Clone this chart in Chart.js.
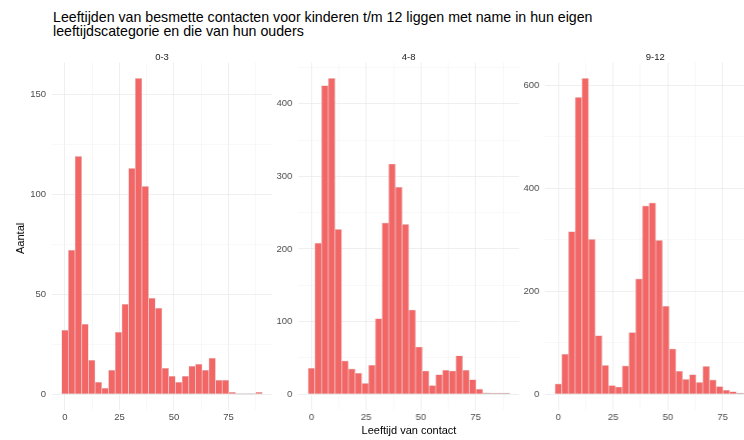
<!DOCTYPE html>
<html><head><meta charset="utf-8">
<script src="https://cdn.jsdelivr.net/npm/chart.js@4.4.1/dist/chart.umd.min.js"></script>
<style>
html,body{margin:0;padding:0;background:#fff;width:744px;height:440px;overflow:hidden;position:relative;font-family:"Liberation Sans",Arial,sans-serif;}
.box{position:absolute;top:0;height:440px;}
#title{position:absolute;left:53px;top:9.5px;font-size:14.2px;line-height:14px;color:#000;white-space:nowrap;}
#ytitle{position:absolute;left:14px;top:217px;width:13px;height:42px;font-size:11px;line-height:13px;color:#000;writing-mode:vertical-rl;transform:rotate(180deg);text-align:center;white-space:nowrap;}
#xtitle{position:absolute;left:409px;top:424px;font-size:11px;line-height:13px;color:#000;transform:translateX(-50%);white-space:nowrap;}
.facet{position:absolute;top:55.7px;font-size:9.5px;line-height:11px;color:#1A1A1A;transform:translate(-50%,-50%);white-space:nowrap;}
</style></head>
<body>
<div id="title">Leeftijden van besmette contacten voor kinderen t/m 12 liggen met name in hun eigen<br>leeftijdscategorie en die van hun ouders</div>
<div class="box" style="left:0px;width:272.4px"><canvas id="c1"></canvas></div>
<div class="box" style="left:272.4px;width:246.7px"><canvas id="c2"></canvas></div>
<div class="box" style="left:519.1px;width:246.6px"><canvas id="c3"></canvas></div>
<div class="facet" id="f1" style="left:162px"></div>
<div class="facet" id="f2" style="left:408.7px"></div>
<div class="facet" id="f3" style="left:655.3px"></div>
<div id="ytitle">Aantal</div>
<div id="xtitle">Leeftijd van contact</div>
<script>
// bin centres (age of contact)
const binCenters = [0,3.07,6.14,9.21,12.28,15.34,18.41,21.48,24.55,27.62,30.69,33.76,36.83,39.9,42.97,46.03,49.1,52.17,55.24,58.31,61.38,64.45,67.52,70.59,73.66,76.72,79.79,82.86,85.93,89];
// counts per facet
const counts03  = [32,72,119,35,17,6,3,12,31,45,113,158,104,48,43,13,9,6,9,14,15,12,18,7,7,1,0,0,0,1];
const counts48  = [36,208,425,435,227,46,35,29,15,40,104,236,317,285,234,116,65,32,12,27,33,32,53,33,20,7,2,1,1,1];
const counts912 = [20,78,316,577,614,301,114,56,17,14,55,120,224,366,372,299,171,88,45,29,38,23,54,28,15,8,5,2,1,1];
const facetLabels = ['0-3','4-8','9-12'];
// tick values
const xMajor = [0,25,50,75];
const xMinor = [12.5,37.5,62.5,87.5];
const yMajor03 = [0,50,100,150],        yMinor03 = [25,75,125];
const yMajor48 = [0,100,200,300,400],   yMinor48 = [50,150,250,350,450];
const yMajor912 = [0,200,400,600],      yMinor912 = [100,300,500];

['f1','f2','f3'].forEach((id,i)=>{ document.getElementById(id).textContent = facetLabels[i]; });

const FONT = '"Liberation Sans", Arial, sans-serif';
const X_MIN = -6.14, X_MAX = 95.14;

// draws the outline of bins whose bar has (near) zero height, like ggplot does
const flatBinOutline = {
  id: 'flatBinOutline',
  afterDatasetsDraw(chart){
    const meta = chart.getDatasetMeta(0);
    const ctx = chart.ctx;
    ctx.save();
    ctx.strokeStyle = 'rgba(205,195,195,1)';
    ctx.lineWidth = 0.8;
    meta.data.forEach(bar => {
      const p = bar.getProps(['x','y','base','width'], true);
      if (Math.abs(p.base - p.y) < 1.2) {
        ctx.beginPath();
        ctx.moveTo(p.x - p.width/2, p.base - 0.4);
        ctx.lineTo(p.x + p.width/2, p.base - 0.4);
        ctx.stroke();
      }
    });
    ctx.restore();
  }
};

function makeChart(id, counts, yMajor, yMinor, yAxisWidth){
  const maxV = Math.max(...counts);
  const allY = yMajor.concat(yMinor).sort((a,b)=>a-b);
  const allX = xMajor.concat(xMinor).sort((a,b)=>a-b);
  new Chart(document.getElementById(id), {
    type: 'bar',
    plugins: [flatBinOutline],
    data: {
      datasets: [{
        data: binCenters.map((x,i)=>({x:x, y:counts[i]})),
        backgroundColor: '#F26666',
        borderColor: 'rgba(235,205,205,1)',
        borderWidth: 0.7,
        borderSkipped: false,
        barPercentage: 1,
        categoryPercentage: 1
      }]
    },
    options: {
      responsive: true,
      maintainAspectRatio: false,
      animation: false,
      layout: {padding: {top: 62.5, left: 0, right: 0, bottom: 0}},
      plugins: {
        legend: {display: false},
        tooltip: {enabled: false},
        title: {display: false}
      },
      scales: {
        x: {
          type: 'linear', min: X_MIN, max: X_MAX, offset: false,
          afterBuildTicks: s => { s.ticks = allX.map(v=>({value:v})); },
          afterFit: s => { s.height = 30; },
          border: {display: false},
          grid: {
            drawTicks: false, offset: false,
            color: c => (c.tick && xMajor.includes(c.tick.value)) ? '#EBEBEB' : '#F3F3F3',
            lineWidth: c => (c.tick && xMajor.includes(c.tick.value)) ? 0.8 : 0.6
          },
          ticks: {
            padding: 2, autoSkip: false, maxRotation: 0,
            color: '#4D4D4D', font: {size: 9.5, family: FONT},
            callback: v => xMajor.includes(v) ? String(v) : ''
          }
        },
        y: {
          type: 'linear', min: -0.05*maxV, max: 1.05*maxV,
          afterBuildTicks: s => { s.ticks = allY.map(v=>({value:v})); },
          afterFit: s => { s.width = yAxisWidth; },
          border: {display: false},
          grid: {
            drawTicks: false,
            color: c => (c.tick && yMajor.includes(c.tick.value)) ? '#EBEBEB' : '#F3F3F3',
            lineWidth: c => (c.tick && yMajor.includes(c.tick.value)) ? 0.8 : 0.6
          },
          ticks: {
            padding: 5.5, autoSkip: false,
            color: '#4D4D4D', font: {size: 9.5, family: FONT},
            callback: v => yMajor.includes(v) ? String(v) : ''
          }
        }
      }
    }
  });
}
makeChart('c1', counts03,  yMajor03,  yMinor03,  51.6);
makeChart('c2', counts48,  yMajor48,  yMinor48,  25.9);
makeChart('c3', counts912, yMajor912, yMinor912, 25.8);
</script>
</body></html>
